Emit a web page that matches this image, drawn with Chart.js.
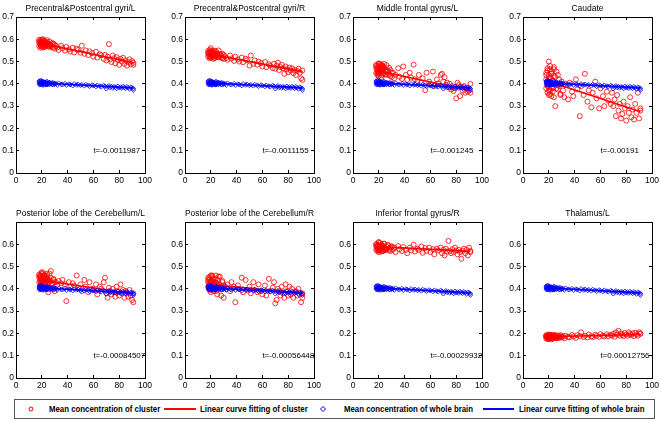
<!DOCTYPE html>
<html>
<head>
<meta charset="utf-8">
<script src="https://cdn.jsdelivr.net/npm/chart.js@4.4.1/dist/chart.umd.min.js"></script>
<style>
  html, body { margin:0; padding:0; background:#fff; }
  body { width:661px; height:422px; position:relative; overflow:hidden; font-family:'Liberation Sans',Arial,sans-serif; }
  canvas { position:absolute; }
  #legend { position:absolute; left:14px; top:399px; width:639px; height:18px; border:1px solid #555; background:#fff; }
  .lt { position:absolute; top:0; line-height:18px; font-size:8.7px; font-weight:bold; color:#000; white-space:nowrap; transform:scaleX(0.9); transform-origin:left center; }
  .ll { position:absolute; top:8px; height:1.5px; }
  .mk { position:absolute; }
</style>
</head>
<body>
<div id="legend">
  <svg class="mk" style="left:12px;top:5px" width="8" height="8"><circle cx="4" cy="4" r="2" fill="none" stroke="#ff0000" stroke-width="1"/></svg>
  <span class="lt" style="left:34px">Mean concentration of cluster</span>
  <div class="ll" style="left:149px;width:32px;background:#ff0000"></div>
  <span class="lt" style="left:185px">Linear curve fitting of cluster</span>
  <svg class="mk" style="left:304px;top:5px" width="8" height="8"><polygon points="4,1.5 6.5,4 4,6.5 1.5,4" fill="none" stroke="#0000ff" stroke-width="1"/></svg>
  <span class="lt" style="left:329px">Mean concentration of whole brain</span>
  <div class="ll" style="left:468px;width:31px;background:#0000ff"></div>
  <span class="lt" style="left:504px">Linear curve fitting of whole brain</span>
</div>
<script>
// ---------- DATA ----------
const titles = [
  'Precentral&Postcentral gyri/L', 'Precentral&Postcentral gyri/R', 'Middle frontal gyrus/L', 'Caudate',
  'Posterior lobe of the Cerebellum/L', 'Posterior lobe of the Cerebellum/R', 'Inferior frontal gyrus/R', 'Thalamus/L'
];
const tLabels = ['t=-0.0011987', 't=-0.0011155', 't=-0.001245', 't=-0.00191',
  't=-0.00084507', 't=-0.00056448', 't=-0.00029932', 't=0.00012756'];

const ages = [
  18,19,19,20,20,21,21,22,22,23,23,24,24,25,26,26,27,28,29,30,
  18,18,18,19,19,19,19,20,20,20,20,21,21,21,21,22,22,22,23,23,23,24,24,25,25,26,
  27,28,29,30,31,32,33,35,36,38,39,41,42,44,45,47,48,50,51,53,54,56,57,59,60,62,63,65,66,68,
  69,70,71,72,73,74,75,76,77,78,79,80,81,82,83,84,85,86,87,88,89,90,91,91
];

const wholeBrain = [
  0.41,0.402,0.397,0.413,0.4,0.406,0.394,0.408,0.401,0.404,0.396,0.41,0.399,0.403,0.407,0.398,0.4,0.405,0.396,0.401,
  0.405,0.412,0.398,0.408,0.401,0.415,0.396,0.404,0.409,0.399,0.411,0.402,0.406,0.397,0.41,0.403,0.4,0.407,0.398,0.405,0.401,0.409,0.396,0.403,0.399,0.404,
  0.402,0.397,0.404,0.399,0.401,0.395,0.403,0.398,0.396,0.401,0.394,0.399,0.397,0.392,0.4,0.395,0.398,0.393,0.396,0.391,0.397,0.394,0.389,0.395,0.392,0.388,0.394,0.39,0.387,0.393,
  0.389,0.378,0.386,0.391,0.384,0.388,0.382,0.387,0.385,0.379,0.389,0.383,0.386,0.381,0.388,0.384,0.38,0.387,0.383,0.377,0.385,0.382,0.379,0.372
];

const clusterPrecentralL = [
  0.592,0.574,0.588,0.57,0.599,0.584,0.563,0.577,0.593,0.58,0.571,0.587,0.575,0.568,0.59,0.578,0.57,0.583,0.562,0.576,
  0.585,0.57,0.598,0.578,0.59,0.562,0.582,0.594,0.575,0.588,0.567,0.583,0.6,0.572,0.586,0.579,0.565,0.591,0.576,0.584,0.569,0.581,0.596,0.573,0.58,0.566,
  0.575,0.566,0.58,0.558,0.57,0.563,0.552,0.571,0.56,0.549,0.566,0.555,0.545,0.562,0.541,0.558,0.552,0.54,0.571,0.535,0.55,0.529,0.546,0.538,0.522,0.544,0.518,0.533,0.528,0.512,
  0.53,0.505,0.522,0.578,0.51,0.498,0.527,0.515,0.492,0.52,0.507,0.485,0.512,0.5,0.517,0.49,0.505,0.482,0.498,0.51,0.488,0.502,0.494,0.485
];
const clusterPrecentralR = [
  0.54,0.527,0.552,0.518,0.537,0.529,0.545,0.522,0.533,0.548,0.516,0.538,0.526,0.531,0.55,0.521,0.535,0.528,0.515,0.53,
  0.535,0.522,0.548,0.53,0.541,0.515,0.538,0.56,0.526,0.544,0.519,0.533,0.55,0.524,0.539,0.529,0.512,0.545,0.527,0.536,0.518,0.531,0.547,0.523,0.534,0.52,
  0.53,0.518,0.535,0.512,0.524,0.516,0.508,0.527,0.514,0.503,0.522,0.51,0.5,0.518,0.497,0.513,0.506,0.482,0.527,0.49,0.505,0.486,0.5,0.493,0.478,0.498,0.475,0.488,0.482,0.47,
  0.49,0.468,0.482,0.495,0.462,0.475,0.485,0.47,0.445,0.478,0.465,0.452,0.473,0.46,0.47,0.448,0.462,0.44,0.458,0.468,0.45,0.425,0.46,0.418
];
const clusterMiddleFrontalL = [
  0.48,0.45,0.468,0.492,0.444,0.474,0.458,0.486,0.438,0.465,0.479,0.447,0.47,0.456,0.484,0.441,0.46,0.472,0.435,0.45,
  0.47,0.448,0.485,0.455,0.478,0.44,0.466,0.49,0.452,0.475,0.435,0.462,0.488,0.45,0.472,0.458,0.43,0.482,0.46,0.468,0.445,0.476,0.49,0.442,0.463,0.455,
  0.455,0.44,0.462,0.43,0.45,0.425,0.44,0.47,0.432,0.422,0.478,0.44,0.418,0.45,0.428,0.486,0.42,0.412,0.44,0.405,0.425,0.372,0.45,0.41,0.398,0.455,0.39,0.42,0.402,0.44,
  0.445,0.41,0.43,0.395,0.405,0.385,0.4,0.375,0.39,0.368,0.38,0.335,0.405,0.395,0.345,0.385,0.37,0.39,0.36,0.38,0.365,0.37,0.4,0.36
];
const clusterCaudate = [
  0.44,0.39,0.46,0.37,0.425,0.355,0.48,0.4,0.445,0.38,0.415,0.465,0.34,0.43,0.395,0.455,0.375,0.42,0.35,0.4,
  0.42,0.38,0.45,0.395,0.47,0.36,0.41,0.5,0.385,0.44,0.35,0.425,0.465,0.37,0.43,0.405,0.345,0.455,0.39,0.415,0.365,0.435,0.475,0.4,0.3,0.38,
  0.44,0.39,0.355,0.41,0.37,0.34,0.395,0.33,0.405,0.365,0.345,0.42,0.375,0.255,0.39,0.35,0.445,0.32,0.37,0.295,0.36,0.41,0.335,0.29,0.38,0.345,0.3,0.365,0.325,0.31,
  0.36,0.3,0.33,0.255,0.35,0.28,0.31,0.245,0.265,0.32,0.29,0.235,0.3,0.27,0.34,0.25,0.285,0.24,0.31,0.27,0.36,0.245,0.29,0.28
];
const clusterPosteriorL = [
  0.46,0.432,0.455,0.415,0.47,0.44,0.425,0.462,0.45,0.435,0.412,0.458,0.443,0.428,0.468,0.438,0.45,0.42,0.445,0.43,
  0.45,0.43,0.465,0.44,0.458,0.42,0.445,0.475,0.435,0.452,0.418,0.44,0.47,0.428,0.455,0.442,0.41,0.462,0.438,0.448,0.425,0.446,0.468,0.385,0.44,0.43,
  0.48,0.425,0.44,0.39,0.43,0.418,0.435,0.425,0.44,0.42,0.345,0.43,0.41,0.425,0.415,0.46,0.405,0.42,0.39,0.44,0.41,0.385,0.43,0.4,0.395,0.42,0.375,0.41,0.4,0.43,
  0.45,0.38,0.36,0.405,0.39,0.375,0.4,0.385,0.365,0.41,0.39,0.37,0.42,0.38,0.395,0.36,0.39,0.38,0.365,0.395,0.37,0.35,0.38,0.34
];
const clusterPosteriorR = [
  0.44,0.412,0.452,0.4,0.436,0.425,0.46,0.408,0.43,0.418,0.445,0.39,0.428,0.442,0.41,0.455,0.42,0.398,0.435,0.415,
  0.43,0.41,0.45,0.42,0.44,0.395,0.425,0.46,0.415,0.435,0.385,0.42,0.455,0.405,0.438,0.422,0.39,0.448,0.418,0.43,0.4,0.428,0.46,0.375,0.42,0.41,
  0.455,0.37,0.43,0.36,0.41,0.4,0.42,0.39,0.43,0.41,0.34,0.415,0.4,0.45,0.385,0.44,0.395,0.41,0.38,0.43,0.395,0.385,0.42,0.39,0.375,0.415,0.37,0.445,0.39,0.405,
  0.43,0.335,0.35,0.4,0.39,0.37,0.41,0.38,0.36,0.42,0.39,0.37,0.41,0.375,0.4,0.36,0.385,0.39,0.37,0.4,0.375,0.34,0.38,0.36
];
const clusterInferiorFrontalR = [
  0.6,0.58,0.592,0.572,0.608,0.586,0.576,0.597,0.583,0.569,0.594,0.581,0.603,0.575,0.589,0.578,0.598,0.573,0.585,0.59,
  0.59,0.575,0.6,0.582,0.595,0.57,0.588,0.61,0.578,0.594,0.565,0.585,0.605,0.573,0.592,0.58,0.568,0.598,0.576,0.589,0.571,0.586,0.602,0.574,0.584,0.579,
  0.595,0.58,0.57,0.59,0.575,0.585,0.565,0.592,0.578,0.57,0.588,0.575,0.56,0.585,0.572,0.598,0.568,0.58,0.575,0.59,0.562,0.583,0.571,0.585,0.565,0.578,0.555,0.58,0.572,0.585,
  0.56,0.575,0.55,0.58,0.568,0.615,0.57,0.56,0.578,0.565,0.585,0.572,0.555,0.575,0.565,0.535,0.57,0.58,0.56,0.575,0.55,0.585,0.565,0.57
];
const clusterThalamusL = [
  0.188,0.18,0.191,0.176,0.184,0.193,0.179,0.187,0.182,0.19,0.177,0.186,0.183,0.189,0.178,0.192,0.181,0.185,0.188,0.183,
  0.185,0.178,0.192,0.182,0.188,0.175,0.186,0.195,0.18,0.19,0.176,0.184,0.193,0.179,0.189,0.183,0.174,0.191,0.181,0.187,0.177,0.185,0.194,0.18,0.186,0.182,
  0.188,0.18,0.192,0.184,0.187,0.178,0.19,0.185,0.182,0.193,0.186,0.18,0.192,0.188,0.205,0.184,0.19,0.182,0.195,0.187,0.183,0.194,0.189,0.185,0.197,0.19,0.186,0.196,0.188,0.193,
  0.19,0.198,0.185,0.205,0.195,0.212,0.19,0.2,0.193,0.188,0.202,0.195,0.19,0.205,0.197,0.192,0.2,0.188,0.203,0.196,0.19,0.205,0.198,0.2
];
const clusters = [clusterPrecentralL, clusterPrecentralR, clusterMiddleFrontalL, clusterCaudate,
  clusterPosteriorL, clusterPosteriorR, clusterInferiorFrontalR, clusterThalamusL];

// fitted line end values at first / last age
const fitAges = [18, 91];
const fitCluster = [[0.583,0.495],[0.535,0.455],[0.46,0.37],[0.415,0.275],[0.44,0.378],[0.42,0.38],[0.59,0.568],[0.185,0.195]];
const fitWhole = [0.405, 0.382];

// axis ranges / tick steps
const xRange = [0, 100], xStep = 20;
const yRange = [0, 0.7], yStep = 0.1;

// ---------- LAYOUT ----------
const FONT = "'Liberation Sans',Arial,sans-serif";
const colLeft = [16, 185, 353, 523];
const rowTop = [17, 222];
const PW = 129, PH = 156, YW = 20, XH = 16, TH = 17, RP = 14;

const tLabelPlugin = {
  id: 'tlabel',
  afterDraw(chart, args, opts) {
    const ctx = chart.ctx;
    const xs = chart.scales.x, ys = chart.scales.y;
    ctx.save();
    ctx.fillStyle = '#000';
    ctx.font = '8px ' + FONT;
    ctx.textAlign = 'left';
    ctx.textBaseline = 'middle';
    ctx.fillText(opts.text, xs.getPixelForValue(60), ys.getPixelForValue(0.1));
    ctx.restore();
  }
};

function grid() { return { display: true, drawOnChartArea: false, drawTicks: true, tickLength: -3, color: '#000', lineWidth: 1 }; }
function border() { return { display: true, color: '#000', width: 1 }; }

titles.forEach((title, i) => {
  const r = Math.floor(i / 4), c = i % 4;
  const cv = document.createElement('canvas');
  const W = YW + PW + RP, H = TH + PH + XH;
  cv.width = W; cv.height = H;
  cv.style.width = W + 'px'; cv.style.height = H + 'px';
  cv.style.left = (colLeft[c] - YW) + 'px';
  cv.style.top = (rowTop[r] - TH) + 'px';
  document.body.appendChild(cv);

  const pts = ages.map((a, k) => ({x: a, y: clusters[i][k]}));
  const wpts = ages.map((a, k) => ({x: a, y: wholeBrain[k]}));
  const bottomRow = r === 1;

  new Chart(cv, {
    type: 'scatter',
    data: {
      datasets: [
        { label: 'Linear curve fitting of whole brain', type: 'line', order: 0,
          data: fitAges.map((a, k) => ({x: a, y: fitWhole[k]})),
          borderColor: '#0000ff', borderWidth: 1.6, pointRadius: 0, fill: false },
        { label: 'Mean concentration of whole brain', order: 1, data: wpts,
          pointStyle: 'rectRot', pointRadius: 2.3, borderColor: '#0000ff', borderWidth: 0.8,
          backgroundColor: 'rgba(0,0,0,0)' },
        { label: 'Linear curve fitting of cluster', type: 'line', order: 2,
          data: fitAges.map((a, k) => ({x: a, y: fitCluster[i][k]})),
          borderColor: '#ff0000', borderWidth: 1.6, pointRadius: 0, fill: false },
        { label: 'Mean concentration of cluster', order: 3, data: pts,
          pointStyle: 'circle', pointRadius: 2.5, borderColor: '#ff0000', borderWidth: 0.8,
          backgroundColor: 'rgba(0,0,0,0)' }
      ]
    },
    options: {
      responsive: false, animation: false, devicePixelRatio: 1,
      layout: { padding: { left: 0, right: RP, top: 0, bottom: 0 } },
      plugins: {
        legend: { display: false }, tooltip: { enabled: false },
        title: { display: true, text: title, color: '#000', fullSize: false,
          font: { family: FONT, size: 8.5, weight: 'normal', lineHeight: 1 },
          padding: { top: 4, bottom: 4.5 } },
        tlabel: { text: tLabels[i] }
      },
      scales: {
        x: { type: 'linear', position: 'bottom', min: xRange[0], max: xRange[1],
          afterFit: s => { s.height = XH; },
          grid: grid(), border: border(),
          ticks: { stepSize: xStep, color: '#000', padding: 6, font: { family: FONT, size: 8.5 }, maxRotation: 0 } },
        x2: { type: 'linear', position: 'top', min: xRange[0], max: xRange[1],
          afterFit: s => { s.height = 0; },
          grid: grid(), border: border(), ticks: { stepSize: xStep, display: false } },
        y: { type: 'linear', position: 'left', min: yRange[0], max: yRange[1],
          afterFit: s => { s.width = YW; },
          grid: grid(), border: border(),
          ticks: { stepSize: yStep, color: '#000', padding: 5, font: { family: FONT, size: 8.5 },
            callback: v => (bottomRow && Math.abs(v - 0.7) < 1e-9) ? '' : (Math.abs(v) < 1e-9 ? '0' : v.toFixed(1)) } },
        y2: { type: 'linear', position: 'right', min: yRange[0], max: yRange[1],
          afterFit: s => { s.width = 0; },
          grid: grid(), border: border(), ticks: { stepSize: yStep, display: false } }
      }
    },
    plugins: [tLabelPlugin]
  });
});
</script>
</body>
</html>
